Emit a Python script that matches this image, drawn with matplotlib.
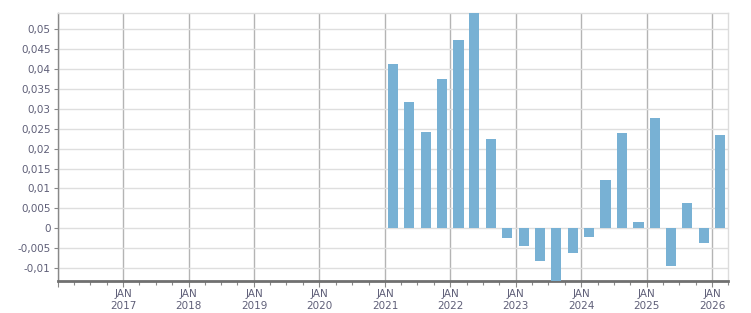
import datetime as dt
import matplotlib
matplotlib.use('Agg')
import matplotlib.pyplot as plt
import matplotlib.dates as mdates
from matplotlib.ticker import MultipleLocator, FuncFormatter

# quarterly values, Q1 2021 .. Q1 2026
quarters = ['2021Q1', '2021Q2', '2021Q3', '2021Q4',
            '2022Q1', '2022Q2', '2022Q3', '2022Q4',
            '2023Q1', '2023Q2', '2023Q3', '2023Q4',
            '2024Q1', '2024Q2', '2024Q3', '2024Q4',
            '2025Q1', '2025Q2', '2025Q3', '2025Q4',
            '2026Q1']
values = [0.0413, 0.0318, 0.0241, 0.0376,
          0.0473, 0.0545, 0.0224, -0.0024,
          -0.0044, -0.0082, -0.0140, -0.0062,
          -0.0022, 0.0122, 0.0240, 0.0015,
          0.0278, -0.0095, 0.0063, -0.0037,
          0.0235]


def quarter_mid(q):
    year = int(q[:4])
    n = int(q[-1])
    return dt.datetime(year, 3 * (n - 1) + 2, 15)


dates = [quarter_mid(q) for q in quarters]

fig = plt.figure(figsize=(7.51, 3.13), dpi=100)
ax = fig.add_axes([0.0766, 0.1022, 0.8934, 0.8563])

ax.bar(dates, values, width=56, color='#78b1d4', zorder=3)

ax.set_xlim(dt.datetime(2016, 1, 1), dt.datetime(2026, 4, 1))
ax.set_ylim(-0.01325, 0.0541)

# y axis
ax.yaxis.set_major_locator(MultipleLocator(0.005))


def fmt_y(v, pos):
    s = ('%.3f' % v).rstrip('0').rstrip('.')
    if s in ('-0', ''):
        s = '0'
    return s.replace('.', ',')


ax.yaxis.set_major_formatter(FuncFormatter(fmt_y))
ax.grid(axis='y', color='#dedede', linewidth=1, zorder=0)

# x axis
ax.xaxis.set_major_locator(mdates.YearLocator())
ax.xaxis.set_minor_locator(mdates.MonthLocator(bymonth=[1, 4, 7, 10]))


def fmt_x(v, pos):
    d = mdates.num2date(v)
    if d.year < 2017:
        return ''
    return 'JAN\n%d' % d.year


ax.xaxis.set_major_formatter(FuncFormatter(fmt_x))
ax.grid(axis='x', which='major', color='#b4b4b4', linewidth=1, zorder=0)

tick_col = '#5f5f78'
ax.tick_params(axis='y', length=3, width=0.8, color='#888888', labelsize=7.5,
               labelcolor=tick_col, pad=2)
ax.tick_params(axis='x', which='major', length=4, width=0.8, color='#888888',
               labelsize=7.5, labelcolor=tick_col, pad=2)
ax.tick_params(axis='x', which='minor', length=3, width=0.8, color='#888888')

for s in ('top', 'right'):
    ax.spines[s].set_color('#dcdcdc')
    ax.spines[s].set_linewidth(1)
ax.spines['left'].set_color('#888888')
ax.spines['left'].set_linewidth(1)
ax.spines['bottom'].set_color('#707070')
ax.spines['bottom'].set_linewidth(2)

plt.savefig('out.png', dpi=100)
